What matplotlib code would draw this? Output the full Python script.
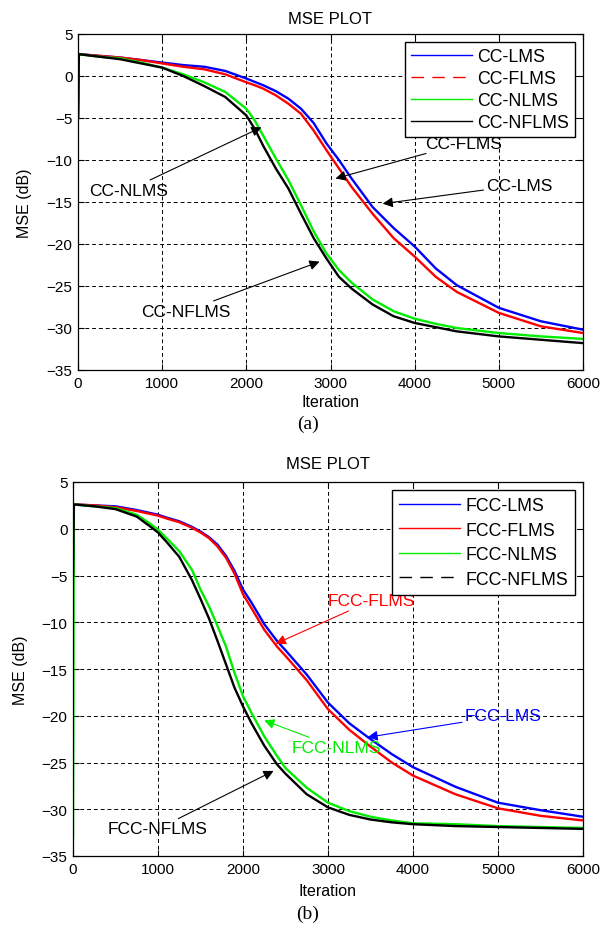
import matplotlib
matplotlib.use("Agg")
import matplotlib.pyplot as plt
from matplotlib.lines import Line2D

plt.rcParams["font.family"] = ["Liberation Sans", "DejaVu Sans"]

# ---- panel (a): CC family ----
it_a = [0, 10, 250, 500, 750, 1000, 1250, 1500, 1750, 2000, 2100, 2200, 2350, 2500,
        2650, 2800, 2950, 3100, 3250, 3500, 3750, 4000, 4250, 4500, 5000, 5500, 6000]
cc_lms = [-5, 2.6, 2.4, 2.2, 1.9, 1.6, 1.3, 1.1, 0.6, -0.3, -0.7, -1.1, -1.8, -2.7,
          -3.9, -5.6, -8.0, -10.0, -12.2, -15.6, -18.1, -20.3, -22.9, -24.9, -27.6, -29.2, -30.2]
cc_flms = [-5, 2.6, 2.4, 2.2, 1.9, 1.5, 1.1, 0.8, 0.2, -0.75, -1.1, -1.5, -2.3, -3.3,
           -4.5, -6.5, -8.8, -11.0, -13.2, -16.4, -19.3, -21.5, -23.9, -25.7, -28.2, -29.8, -30.6]
cc_nlms = [-5, 2.6, 2.3, 2.1, 1.6, 1.0, 0.2, -0.75, -1.9, -3.9, -5.3, -7.1, -9.8, -12.4,
           -15.4, -18.5, -21.1, -23.1, -24.6, -26.6, -28.0, -28.9, -29.5, -30.0, -30.6, -31.0, -31.3]
cc_nflms = [-5, 2.6, 2.3, 2.0, 1.5, 1.0, 0.0, -1.2, -2.5, -4.7, -6.3, -8.3, -11.0, -13.4,
            -16.4, -19.3, -21.7, -23.9, -25.3, -27.2, -28.6, -29.4, -29.9, -30.4, -31.0, -31.4, -31.8]

# ---- panel (b): FCC family ----
it_b = [0, 10, 250, 500, 750, 900, 1000, 1100, 1250, 1400, 1500, 1600, 1700, 1800, 1900,
        2000, 2100, 2250, 2400, 2500, 2750, 3000, 3250, 3500, 3750, 4000, 4500, 5000, 5500, 6000]
fcc_lms = [-5, 2.6, 2.5, 2.4, 2.0, 1.7, 1.5, 1.2, 0.8, 0.2, -0.3, -0.9, -1.7, -2.9, -4.5,
           -6.5, -7.9, -10.2, -12.0, -13.0, -15.6, -18.6, -20.8, -22.5, -24.1, -25.5, -27.6, -29.3, -30.1, -30.8]
fcc_flms = [-5, 2.6, 2.5, 2.3, 1.9, 1.6, 1.4, 1.1, 0.7, 0.1, -0.4, -1.0, -1.9, -3.1, -4.8,
            -7.0, -8.5, -10.8, -12.6, -13.6, -16.2, -19.3, -21.5, -23.3, -25.0, -26.4, -28.4, -29.9, -30.7, -31.2]
fcc_nlms = [-33, 2.6, 2.4, 2.2, 1.5, 0.6, -0.1, -1.0, -2.4, -4.4, -6.5, -8.3, -10.4, -12.6, -15.4,
            -17.9, -19.7, -22.2, -24.3, -25.6, -27.7, -29.3, -30.2, -30.8, -31.2, -31.5, -31.6, -31.8, -31.9, -32.0]
fcc_nflms = [-5, 2.6, 2.4, 2.1, 1.3, 0.3, -0.4, -1.4, -3.0, -5.5, -7.5, -9.6, -12.0, -14.5, -17.0,
             -19.0, -20.8, -23.2, -25.2, -26.2, -28.4, -29.8, -30.6, -31.1, -31.4, -31.6, -31.8, -31.9, -32.0, -32.1]

labels_a = ["CC-LMS", "CC-FLMS", "CC-NLMS", "CC-NFLMS"]
labels_b = ["FCC-LMS", "FCC-FLMS", "FCC-NLMS", "FCC-NFLMS"]
colors = ["#0000ff", "#ff0000", "#00ee00", "#000000"]

W, H = 612, 928
fig = plt.figure(figsize=(W / 100, H / 100), dpi=100)
# axes boxes in pixels (left, top, right, bottom)
box_a = (78, 35, 583, 371)
box_b = (73, 483, 583, 857)


def px_axes(b):
    l, t, r, btm = b
    return fig.add_axes([l / W, 1 - btm / H, (r - l) / W, (btm - t) / H])


ax_a = px_axes(box_a)
ax_b = px_axes(box_b)


def style(ax, box, tpad, xlab_y, ylab_x):
    ax.set_xlim(0, 6000); ax.set_ylim(-35, 5)
    ax.set_xticks(range(0, 6001, 1000)); ax.set_yticks(range(-35, 6, 5))
    ax.grid(True, color="black", linestyle=(0, (4, 3)), lw=0.7)
    ax.tick_params(direction="in", top=True, right=True, labelsize=11, length=4, pad=4)
    ax.set_title("MSE PLOT", fontsize=12, pad=tpad)
    ax.set_xlabel("Iteration", fontsize=11.5)
    ax.set_ylabel("MSE (dB)", fontsize=11.5)
    hgt = box[3] - box[1]; wid = box[2] - box[0]
    ax.xaxis.set_label_coords(0.5, -(xlab_y - box[3]) / hgt)
    ax.xaxis.label.set_va("center")
    ax.yaxis.set_label_coords(-(box[0] - ylab_x) / wid, 0.5)
    ax.yaxis.label.set_va("center")
    for sp in ax.spines.values(): sp.set_linewidth(0.9)


def arrow(ax, text, xy, xytext, col):
    ax.annotate(text, xy=xy, xytext=xytext, color=col, fontsize=12.5, ha="left", va="center",
                arrowprops=dict(arrowstyle="-|>", color=col, lw=0.8, mutation_scale=15,
                                shrinkA=0, shrinkB=0))


# panel (a)
for ys, c in zip([cc_lms, cc_flms, cc_nlms, cc_nflms], colors):
    ax_a.plot(it_a, ys, color=c, lw=1.7)
style(ax_a, box_a, 8, 403, 25)
h_a = [Line2D([], [], color=colors[0], lw=1),
       Line2D([], [], color=colors[1], lw=1, dashes=(9, 6)),
       Line2D([], [], color=colors[2], lw=1),
       Line2D([], [], color=colors[3], lw=1)]
ax_a.legend(h_a, labels_a, loc="upper right", fontsize=12.8, fancybox=False, edgecolor="black",
            framealpha=1, handlelength=3.4, handletextpad=0.3, borderaxespad=0.45,
            labelspacing=0.28, borderpad=0.35)
arrow(ax_a, "CC-FLMS", (3060, -12.2), (4120, -8.0), "black")
arrow(ax_a, "CC-LMS", (3620, -15.2), (4850, -13.0), "black")
arrow(ax_a, "CC-NLMS", (2180, -6.1), (130, -13.6), "black")
arrow(ax_a, "CC-NFLMS", (2870, -22.1), (750, -28.0), "black")
fig.text(308 / W, 1 - 424 / H, "(a)", ha="center", va="center",
         fontsize=14, family="Liberation Serif")

# panel (b)
for ys, c in zip([fcc_lms, fcc_flms, fcc_nlms, fcc_nflms], colors):
    ax_b.plot(it_b, ys, color=c, lw=1.7)
style(ax_b, box_b, 10, 892, 21)
h_b = [Line2D([], [], color=colors[0], lw=1),
       Line2D([], [], color=colors[1], lw=1),
       Line2D([], [], color=colors[2], lw=1),
       Line2D([], [], color=colors[3], lw=1, dashes=(9, 6))]
ax_b.legend(h_b, labels_b, loc="upper right", fontsize=12.8, fancybox=False, edgecolor="black",
            framealpha=1, handlelength=3.4, handletextpad=0.3, borderaxespad=0.45,
            labelspacing=0.42, borderpad=0.4)
arrow(ax_b, "FCC-FLMS", (2385, -12.3), (2995, -7.7), colors[1])
arrow(ax_b, "FCC-LMS", (3465, -22.3), (4610, -20.0), colors[0])
arrow(ax_b, "FCC-NLMS", (2250, -20.5), (2570, -23.4), colors[2])
arrow(ax_b, "FCC-NFLMS", (2360, -25.9), (410, -32.1), "black")
fig.text(308 / W, 1 - 914 / H, "(b)", ha="center", va="center",
         fontsize=14, family="Liberation Serif")

fig.savefig("out.png", dpi=100)
